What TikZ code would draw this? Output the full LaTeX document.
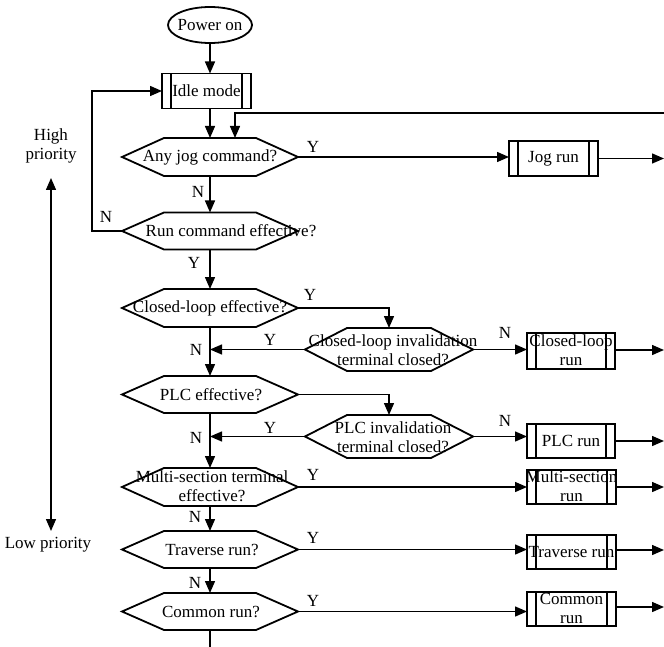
\documentclass[tikz,border=0pt]{standalone}
\usepackage{fontspec}
\setmainfont{Liberation Serif}
\usetikzlibrary{arrows.meta,calc,shapes.geometric}
\newcommand\hexpath[2]{%
  \draw[hexline] (#1.west) -- ([xshift=#2]#1.north west) -- ([xshift=-#2]#1.north east)
    -- (#1.east) -- ([xshift=-#2]#1.south east) -- ([xshift=#2]#1.south west) -- cycle;}
\tikzset{
  hexbox/.style={draw=none, inner sep=0, outer sep=0, minimum width=176, minimum height=38},
  hexline/.style={line width=1.8, line join=miter},
  procbox/.style={draw, line width=1.8, minimum width=89, minimum height=35, inner sep=0, outer sep=0,
    path picture={\draw[line width=1.8]
      ([xshift=9]path picture bounding box.north west) -- ([xshift=9]path picture bounding box.south west)
      ([xshift=-9]path picture bounding box.north east) -- ([xshift=-9]path picture bounding box.south east);}},
  txt/.style={inner sep=0, align=center, font=\fontsize{17}{19}\selectfont},
  conn/.style={line width=1.4, -{Triangle[length=12pt,width=10pt]}},
  plain/.style={line width=1.4},
}
\begin{document}
\begin{tikzpicture}[x=1pt,y=-1pt]
\useasboundingbox (0,0) rectangle (664,647);
% start
\node[ellipse, draw, line width=1.8, minimum width=84, minimum height=36, inner sep=0] (on) at (210,25) {};
\node[txt] (ton) at (on) {Power on};
% process boxes
\node[procbox] (p0) at (206.5,91) {};
\node[txt] (tp0) at (p0) {Idle mode};
\node[procbox] (pj) at (553.5,158.5) {};
\node[txt] (tpj) at (pj) {Jog run};
\node[procbox, minimum width=88, minimum height=36] (pc) at (571,351) {};
\node[txt] (tpc) at (571,350) {Closed-loop\\run};
\node[procbox, minimum width=88, minimum height=34] (pp) at (571,441) {};
\node[txt] (tpp) at (pp) {PLC run};
\node[procbox, minimum height=34] (pm) at (571.5,487) {};
\node[txt] (tpm) at (571.5,486) {Multi-section\\run};
\node[procbox, minimum height=34] (pt) at (571.5,552) {};
\node[txt] (tpt) at (pt) {Traverse run};
\node[procbox, minimum height=34] (pco) at (571.5,609) {};
\node[txt] (tpco) at (571.5,608) {Common\\run};
% decisions
\node[hexbox] (q1) at (210,157) {}; \hexpath{q1}{42}
\node[txt] (tq1) at (210,157) {Any jog command?};
\node[hexbox, minimum height=37] (q2) at (210,231) {}; \hexpath{q2}{42}
\node[txt] (tq2) at (231,231) {Run command effective?};
\node[hexbox] (q3) at (210,308) {}; \hexpath{q3}{42}
\node[txt] (tq3) at (210,308) {Closed-loop effective?};
\node[hexbox, minimum width=168, minimum height=43] (q4) at (389,349.5) {}; \hexpath{q4}{42}
\node[txt] (tq4) at (393,350) {Closed-loop invalidation\\terminal closed?};
\node[hexbox, minimum height=37] (q5) at (210,394.5) {}; \hexpath{q5}{42}
\node[txt] (tq5) at (211,395) {PLC effective?};
\node[hexbox, minimum width=168, minimum height=43] (q6) at (389,436.5) {}; \hexpath{q6}{42}
\node[txt] (tq6) at (393,437) {PLC invalidation\\terminal closed?};
\node[hexbox] (q7) at (210,487) {}; \hexpath{q7}{42}
\node[txt] (tq7) at (212,486) {Multi-section terminal\\effective?};
\node[hexbox, minimum height=37] (q8) at (210,549.5) {}; \hexpath{q8}{42}
\node[txt] (tq8) at (212,550) {Traverse run?};
\node[hexbox, minimum height=37] (q9) at (210,611.5) {}; \hexpath{q9}{42}
\node[txt] (tq9) at (211,612) {Common run?};
% coordinates
\coordinate (rt) at (664,113);
\coordinate (bot) at (210,647);
\coordinate (oj) at (664,158.5);
\coordinate (oc) at (664,350);
\coordinate (op) at (664,441);
\coordinate (om) at (664,487);
\coordinate (ot) at (664,550);
\coordinate (oco) at (664,607);
% main flow
\draw[conn] (on.south) -- (on.south |- p0.north);
\draw[conn] (q1.north |- p0.south) -- (q1.north);
\draw[conn] (rt) -| ([xshift=25]q1.north);
\draw[conn] (q1.south) -- (q2.north);
\draw[conn] (q2.south) -- (q3.north);
\draw[conn] (q3.south) -- (q5.north);
\draw[conn] (q5.south) -- (q7.north);
\draw[conn] (q7.south) -- (q8.north);
\draw[conn] (q8.south) -- (q9.north);
\draw[plain] (q9.south) -- (bot);
\draw[conn] (q2.west) -- ++(-30,0) |- (p0.west);
% branches
\draw[conn] (q1.east) -- (q1.east -| pj.west);
\draw[conn] (q3.east) -| (q4.north);
\draw[conn] (q5.east) -| (q6.north);
\draw[conn] (q4.west) -- (q4.west -| q3.south);
\draw[conn] (q6.west) -- (q6.west -| q5.south);
\draw[conn] (q4.east) -- (q4.east -| pc.west);
\draw[conn] (q6.east) -- (q6.east -| pp.west);
\draw[conn] (q7.east) -- (q7.east -| pm.west);
\draw[conn] (q8.east) -- (q8.east -| pt.west);
\draw[conn] (q9.east) -- (q9.east -| pco.west);
% outputs
\draw[conn] (pj.east) -- (oj);
\draw[conn] (pc.east |- oc) -- (oc);
\draw[conn] (pp.east) -- (op);
\draw[conn] (pm.east) -- (om);
\draw[conn] (pt.east |- ot) -- (ot);
\draw[conn] (pco.east |- oco) -- (oco);
% labels
\node[txt] (l1) at (313,147) {Y};
\node[txt] (l2) at (198,192) {N};
\node[txt] (l3) at (106,217) {N};
\node[txt] (l4) at (194,263) {Y};
\node[txt] (l5) at (310,295) {Y};
\node[txt] (l6) at (270,340) {Y};
\node[txt] (l7) at (196,350) {N};
\node[txt] (l8) at (505,333) {N};
\node[txt] (l9) at (270,428) {Y};
\node[txt] (l10) at (196,438) {N};
\node[txt] (l11) at (505,421) {N};
\node[txt] (l12) at (313,475) {Y};
\node[txt] (l13) at (195,517) {N};
\node[txt] (l14) at (313,538) {Y};
\node[txt] (l15) at (195,583) {N};
\node[txt] (l16) at (313,601) {Y};
% priority
\node[txt] (hp) at (51,146) {High\\priority};
\node[txt] (lp) at (48,545) {Low priority};
\coordinate (ph) at (51,178);
\coordinate (pl) at (51,531);
\draw[line width=1.4, {Triangle[length=12pt,width=10pt]}-{Triangle[length=12pt,width=10pt]}] (ph) -- (pl);
\end{tikzpicture}
\end{document}
